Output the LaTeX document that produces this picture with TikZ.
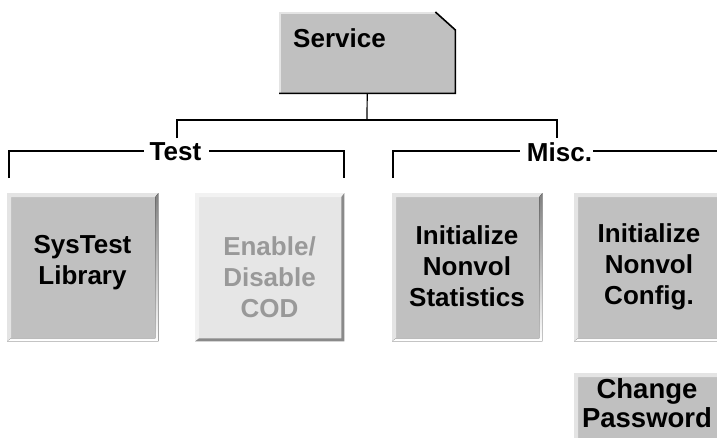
\documentclass[tikz,border=0pt]{standalone}
\usepackage{fontspec}
\setmainfont{Liberation Sans}
\definecolor{boxgray}{HTML}{C0C0C0}
\definecolor{hilite}{HTML}{E4E4E4}
\definecolor{shade}{HTML}{3A3A3A}
\definecolor{paleface}{HTML}{E6E6E6}
\definecolor{palehi}{HTML}{F2F2F2}
\definecolor{paleshade}{HTML}{8A8A8A}
\definecolor{paletext}{HTML}{999999}
\newcommand\bevelbox[3]{%
  \fill[#2] (#1.north west) -- (#1.north east) -- ([shift={(-3,4)}]#1.north east)
    -- ([shift={(4,4)}]#1.north west) -- ([shift={(4,-3)}]#1.south west) -- (#1.south west) -- cycle;
  \fill[#3] (#1.north east) -- (#1.south east) -- (#1.south west)
    -- ([shift={(4,-3)}]#1.south west) -- ([shift={(-3,-3)}]#1.south east) -- ([shift={(-3,4)}]#1.north east) -- cycle;}
\begin{document}
\begin{tikzpicture}[x=1pt,y=-1pt,
  box/.style={draw=none,fill=boxgray,minimum height=148pt,inner sep=0pt,anchor=north west},
  lbl/.style={font=\bfseries\fontsize{26}{31}\selectfont,align=center,inner sep=0pt},
  conn/.style={draw=black,line width=1.2pt}]
\clip (0,0) rectangle (717,437);
\fill[white] (0,0) rectangle (717,437);

% Service box
\node[draw=none,minimum width=176pt,minimum height=81pt,inner sep=0pt,anchor=north west] (svc) at (279,12) {};
\fill[boxgray] (svc.south west) -- (svc.north west) -- ([shift={(-20,0)}]svc.north east)
  -- ([shift={(0,18)}]svc.north east) -- (svc.south east) -- cycle;
\draw[hilite,line width=2pt] ([shift={(1,0)}]svc.south west) -- ([shift={(1,1)}]svc.north west) -- ([shift={(-20,1)}]svc.north east);
\draw[black,line width=1.6pt] ([shift={(-20,0)}]svc.north east) -- ([shift={(0,18)}]svc.north east)
  -- (svc.south east) -- (svc.south west);
\node[lbl,anchor=base west] (svct) at (293,47) {Service};

% connectors from Service
\coordinate (jc) at (367,120);
\coordinate (jl) at (177,120);
\coordinate (jr) at (557,120);
\coordinate (tl) at (177,138);
\coordinate (mr) at (557,138);
\draw[conn] (svc.south) -- (jc);
\draw[conn] (tl) -- (jl) -- (jr) -- (mr);

% group labels
\node[lbl] (test) at (175.5,152) {Test};
\node[lbl] (misc) at (559.5,152) {Misc.};
\coordinate (ta) at (9,178);
\coordinate (tb) at (344,178);
\coordinate (ma) at (393,178);
\coordinate (mb) at (717,151);
\draw[conn] (ta) -- (ta |- 0,151) -- ([xshift=-6pt]test.west |- 0,151);
\draw[conn] ([xshift=8pt]test.east |- 0,151) -- (tb |- 0,151) -- (tb);
\draw[conn] (ma) -- (ma |- 0,151) -- ([xshift=-7pt]misc.west |- 0,151);
\draw[conn] ([xshift=1pt]misc.east |- 0,151) -- (mb);

% boxes
\node[box,minimum width=151pt] (sys) at (7,193) {};
\bevelbox{sys}{hilite}{shade}
\node[box,minimum width=149pt,fill=paleface] (ena) at (195,193) {};
\bevelbox{ena}{palehi}{paleshade}
\node[box,minimum width=150pt] (sta) at (392,193) {};
\bevelbox{sta}{hilite}{shade}
\node[box,minimum width=150pt] (cfg) at (574,193) {};
\bevelbox{cfg}{hilite}{shade}
\node[box,minimum width=150pt] (pwd) at (574,373) {};
\bevelbox{pwd}{hilite}{shade}

% box texts
\node[lbl] (syst) at (82.5,263) {SysTest\\Library};
\node[lbl,text=paletext] (enat) at (269.5,277.5) {Enable/\\Disable\\COD};
\node[lbl] (stat) at (467,266.5) {Initialize\\Nonvol\\Statistics};
\node[lbl] (cfgt) at (649,267) {Initialize\\Nonvol\\Config.};
\node[lbl,font=\bfseries\fontsize{27.5}{29}\selectfont] (pwdt) at (647,403) {Change\\Password};
\end{tikzpicture}
\end{document}
